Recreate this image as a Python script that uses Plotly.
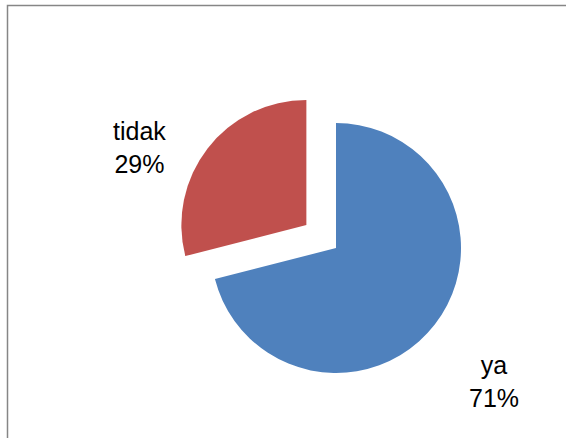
import plotly.graph_objects as go

# Survey answers and their shares
labels = ["ya", "tidak"]
values = [71, 29]
colors = ["#4F81BD", "#C0504D"]
pulls = [0, 0.3]

W, H = 566, 438

total = sum(values)
pct = [round(v / total * 100) for v in values]

fig = go.Figure(
    go.Pie(
        labels=labels,
        values=values,
        sort=False,
        direction="clockwise",
        rotation=0,
        pull=pulls,
        marker=dict(colors=colors, line=dict(width=0)),
        textinfo="none",
        hoverinfo="label+percent",
        showlegend=False,
        domain=dict(x=[173.5 / W, 498.5 / W], y=[27.5 / H, 352.5 / H]),
    )
)

# Category labels with percentages, placed beside each slice
label_pos = {"ya": (494 / W, 1 - 381 / H), "tidak": (139 / W, 1 - 147.5 / H)}
for lab, p in zip(labels, pct):
    x, y = label_pos[lab]
    fig.add_annotation(
        x=x, y=y, xref="paper", yref="paper",
        text=f"{lab}<br>{p}%",
        showarrow=False,
        xanchor="center", yanchor="middle",
        align="center",
        font=dict(family="Liberation Sans, Arial, sans-serif", size=25, color="#000000"),
    )

# Chart-area frame
fig.add_shape(
    type="rect", xref="paper", yref="paper",
    x0=7.5 / W, x1=1.05, y0=-0.05, y1=1 - 5.5 / H,
    line=dict(color="#868686", width=1.5),
    fillcolor="rgba(0,0,0,0)",
)

fig.update_layout(
    width=W, height=H,
    margin=dict(l=0, r=0, t=0, b=0),
    paper_bgcolor="#FFFFFF",
    plot_bgcolor="#FFFFFF",
)

fig.write_html("out.html")
